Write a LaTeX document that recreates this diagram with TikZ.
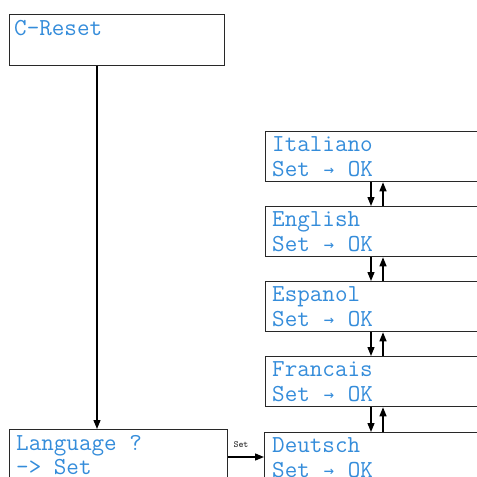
\documentclass[tikz,border=0pt]{standalone}
\usepackage{fontspec}
\usetikzlibrary{arrows.meta}
\definecolor{lcdblue}{RGB}{52,140,218}
\definecolor{boxline}{RGB}{40,40,40}
\newfontfamily\arrowfont{DejaVu Sans Mono}
\newcommand{\myarr}{\makebox[0.525em]{\arrowfont\fontsize{17}{17}\selectfont\raisebox{1pt}{→}}}
\tikzset{
  box/.style={draw=boxline, line width=1.3pt, inner sep=0pt, anchor=north west, minimum height=50pt},
  txt/.style={text=lcdblue, font=\fontsize{24.4}{26}\selectfont\ttfamily, inner sep=0pt, anchor=base west},
  conn/.style={draw=black, line width=1.3pt, -{Triangle[length=9pt,width=7pt]}},
  small/.style={font=\fontsize{9.5}{9.5}\selectfont\ttfamily\bfseries, inner sep=0pt, text=black!80}
}
\begin{document}
\begin{tikzpicture}[x=1pt,y=-1pt]
\useasboundingbox (0,0) rectangle (477,477);
\clip (0,0) rectangle (477,477);
% boxes
\node[box, minimum width=215pt, minimum height=51pt] (cr) at (9,14) {};
\node[box, minimum width=218pt, minimum height=80pt] (lang) at (9,429) {};
\node[box, minimum width=240pt] (it) at (265,131) {};
\node[box, minimum width=240pt] (en) at (265,206) {};
\node[box, minimum width=240pt] (es) at (265,281) {};
\node[box, minimum width=240pt] (fr) at (265,356) {};
\node[box, minimum width=240pt, minimum height=80pt] (de) at (264,432) {};
% texts
\node[txt] (crA) at (14,35) {C-Reset};
\node[txt] (langA) at (16,450) {Language ?};
\node[txt] (langB) at (16,474) {-> Set};
\node[txt] (itA) at (272,151) {Italiano};
\node[txt] (itB) at (272,176) {Set \myarr{} OK};
\node[txt] (enA) at (272,226) {English};
\node[txt] (enB) at (272,251) {Set \myarr{} OK};
\node[txt] (esA) at (272,301) {Espanol};
\node[txt] (esB) at (272,326) {Set \myarr{} OK};
\node[txt] (frA) at (272,376) {Francais};
\node[txt] (frB) at (272,401) {Set \myarr{} OK};
\node[txt] (deA) at (272,452) {Deutsch};
\node[txt] (deB) at (272,477) {Set \myarr{} OK};
% helper coordinates
\coordinate (vx) at (97,0);
\coordinate (dn) at (371,0);
\coordinate (up) at (383,0);
\coordinate (ya) at (0,457);
% connectors
\draw[conn] (cr.south -| vx) -- (lang.north -| vx);
\draw[conn] (lang.east |- ya) -- (de.west |- ya);
\node[small] (setlbl) at (241,445) {Set};
\foreach \a/\b in {it/en,en/es,es/fr,fr/de}{
  \draw[conn] (\a.south -| dn) -- (\b.north -| dn);
  \draw[conn] (\b.north -| up) -- (\a.south -| up);
}
\end{tikzpicture}
\end{document}
